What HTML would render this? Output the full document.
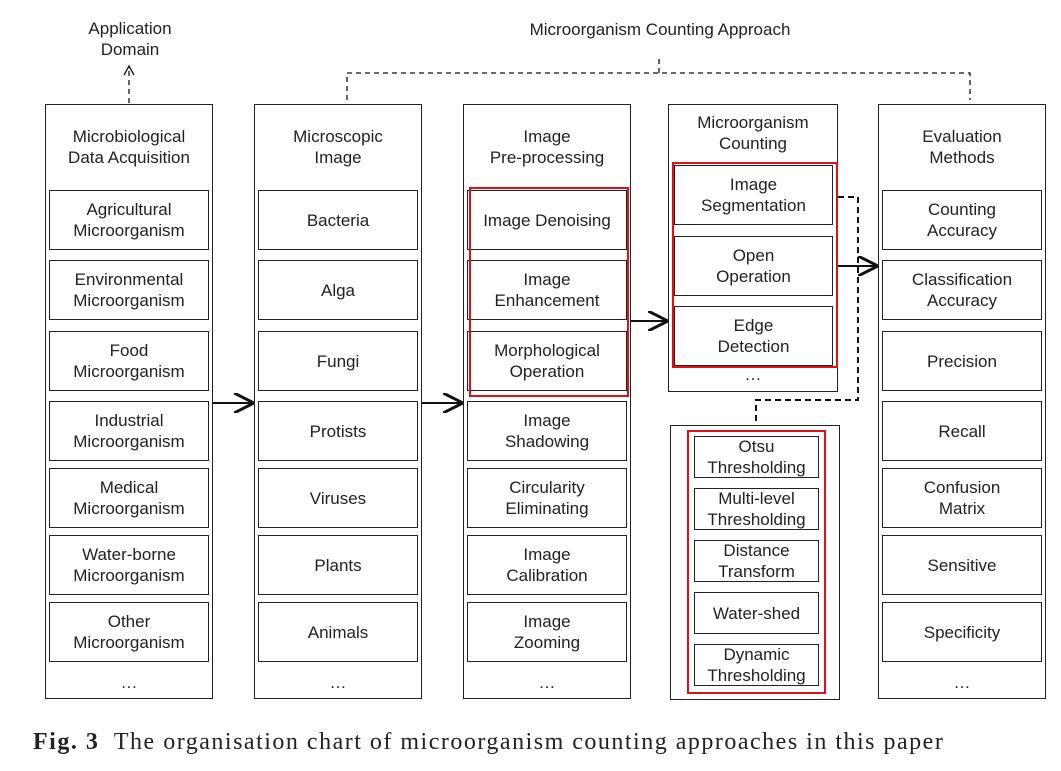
<!DOCTYPE html>
<html><head><meta charset="utf-8"><style>
body{margin:0;width:1061px;height:771px;background:#fff;overflow:hidden;font-family:"Liberation Sans",sans-serif;}
.b{position:absolute;border:1.5px solid #222;box-sizing:border-box;}
.t{position:absolute;display:flex;align-items:center;justify-content:center;text-align:center;font-size:17px;color:#222;line-height:21px;}
.r{position:absolute;border:2.5px solid #e0101a;box-sizing:border-box;}
</style></head><body>
<div id="c"></div>
<svg width="1061" height="771" style="position:absolute;left:0;top:0">
<defs><marker id="a" markerWidth="10" markerHeight="10" refX="9" refY="5" orient="auto"><path d="M0,0 L10,5 L0,10" fill="none" stroke="#111" stroke-width="1.5"/></marker></defs>
<g stroke="#111" stroke-width="2" fill="none">
<line x1="213" y1="403" x2="252" y2="403" marker-end="url(#a)"/>
<line x1="422" y1="403" x2="461" y2="403" marker-end="url(#a)"/>
<line x1="631" y1="321" x2="666" y2="321" marker-end="url(#a)"/>
<line x1="838" y1="266" x2="876" y2="266" marker-end="url(#a)"/>
</g>
<g stroke="#111" stroke-width="2" fill="none" stroke-dasharray="6,4">
<polyline points="838,197 858,197 858,400 756,400 756,425"/>
</g>
<g stroke="#111" stroke-width="1.3" fill="none" stroke-dasharray="5,4">
<polyline points="347,100 347,73 970,73 970,100"/>
<line x1="659" y1="73" x2="659" y2="58"/>
<line x1="129" y1="103" x2="129" y2="68"/>
</g>
<path d="M124,75 L129,66 L134,75" fill="none" stroke="#111" stroke-width="1.3"/>
</svg>
<div class="t" style="left:60px;top:18px;width:140px;height:42px">Application<br>Domain</div>
<div class="t" style="left:480px;top:18px;width:360px;height:22px">Microorganism Counting Approach</div>
<div class="t" style="left:0;top:729px;width:1061px;height:26px;justify-content:flex-start;padding-left:33px;font-family:'Liberation Serif',serif;font-size:24px;letter-spacing:1.5px;white-space:nowrap"><b>Fig. 3</b>&nbsp; The organisation chart of microorganism counting approaches in this paper</div>
<script>
const c=document.getElementById('c');let h='';
function box(x,y,w,hh){h+=`<div class="b" style="left:${x}px;top:${y}px;width:${w}px;height:${hh}px"></div>`;}
function txt(x,y,w,hh,s){h+=`<div class="t" style="left:${x}px;top:${y}px;width:${w}px;height:${hh}px">${s}</div>`;}
function red(x,y,w,hh){h+=`<div class="r" style="left:${x}px;top:${y}px;width:${w}px;height:${hh}px"></div>`;}
const ys=[190,260,331,401,468,535,602];
const cols=[
[45,"Microbiological<br>Data Acquisition",["Agricultural<br>Microorganism","Environmental<br>Microorganism","Food<br>Microorganism","Industrial<br>Microorganism","Medical<br>Microorganism","Water-borne<br>Microorganism","Other<br>Microorganism"]],
[254,"Microscopic<br>Image",["Bacteria","Alga","Fungi","Protists","Viruses","Plants","Animals"]],
[463,"Image<br>Pre-processing",["Image Denoising","Image<br>Enhancement","Morphological<br>Operation","Image<br>Shadowing","Circularity<br>Eliminating","Image<br>Calibration","Image<br>Zooming"]],
[878,"Evaluation<br>Methods",["Counting<br>Accuracy","Classification<br>Accuracy","Precision","Recall","Confusion<br>Matrix","Sensitive","Specificity"]]];
for(const [x,t,items] of cols){box(x,104,168,595);txt(x,124,168,46,t);
items.forEach((s,i)=>{box(x+4,ys[i],160,60);txt(x+4,ys[i],160,60,s);});txt(x,670,168,24,"…");}
red(469,187,160,210);
box(668,104,170,288);txt(668,110,170,46,"Microorganism<br>Counting");
[["Image<br>Segmentation",165],["Open<br>Operation",236],["Edge<br>Detection",306]].forEach(([s,y])=>{box(674,y,159,60);txt(674,y,159,60,s);});
txt(668,362,170,24,"…");red(672,162,166,206);
box(670,425,170,275);red(687,430,139,264);
[["Otsu<br>Thresholding",436],["Multi-level<br>Thresholding",488],["Distance<br>Transform",540],["Water-shed",592],["Dynamic<br>Thresholding",644]].forEach(([s,y])=>{box(694,y,125,42);txt(694,y,125,42,s);});
c.innerHTML=h;
</script>
</body></html>
